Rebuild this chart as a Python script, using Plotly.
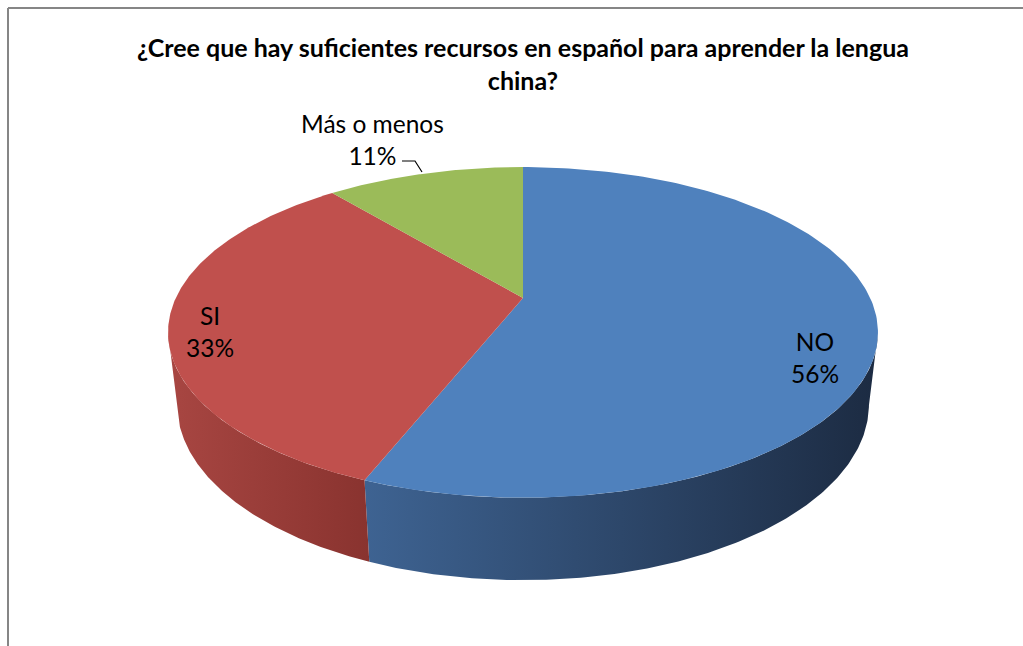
import numpy as np
import plotly.graph_objects as go

# data
labels = ["NO", "SI", "Más o menos"]
values = [56, 33, 11]
title_text = "¿Cree que hay suficientes recursos en español para aprender la lengua<br>china?"

# colours (Excel 2007 palette)
TOP = ["#4f81bd", "#c0504d", "#9bbb59"]
SIDE = [["#3e6392", "#1c2b42"], ["#a84642", "#89332f"], ["#7d9a45", "#66803a"]]

# pseudo-3D pie: a tilted disc seen in perspective (pixel space)
W, H = 1023, 646
CX, CY = 523, 298          # projected centre of the disc
ELEV = np.radians(27.1)    # viewing elevation
DIST = 4.28                # camera distance (in radii)
FOCAL = 1486
THICK = 0.234              # disc thickness (in radii)


def proj(theta_deg, level=0.0):
    t = np.radians(theta_deg)
    X, Z, Y = np.sin(t), np.cos(t), -level * THICK
    depth = DIST + Z * np.cos(ELEV) - Y * np.sin(ELEV)
    up = Y * np.cos(ELEV) + Z * np.sin(ELEV)
    return CX + FOCAL * X / depth, CY - FOCAL * up / depth


fig = go.Figure()

total = sum(values)
bounds = np.concatenate([[0], np.cumsum(values) / total * 360])
edge = np.degrees(np.arccos(-np.cos(ELEV) / DIST))  # silhouette angle

# side walls (front part only)
for i in range(len(values)):
    a0, a1 = max(bounds[i], edge), min(bounds[i + 1], 360 - edge)
    if a1 <= a0:
        continue
    th = np.linspace(a0, a1, 150)
    xt, yt = proj(th)
    xb, yb = proj(th[::-1], 1.0)
    xs = np.concatenate([xt, xb, xt[:1]])
    ys = np.concatenate([yt, yb, yt[:1]])
    fig.add_trace(go.Scatter(
        x=xs, y=ys, mode="lines", fill="toself", line=dict(width=0),
        fillgradient=dict(type="horizontal",
                          colorscale=[[0, SIDE[i][0]], [1, SIDE[i][1]]],
                          start=float(xs.min()), stop=float(xs.max())),
        hoverinfo="skip", showlegend=False))

# top wedges
for i, lab in enumerate(labels):
    th = np.linspace(bounds[i], bounds[i + 1], 200)
    xa, ya = proj(th)
    fig.add_trace(go.Scatter(
        x=np.concatenate([[CX], xa, [CX]]), y=np.concatenate([[CY], ya, [CY]]),
        mode="lines", fill="toself", fillcolor=TOP[i], line=dict(width=0),
        name=lab, hoverinfo="name", showlegend=False))

# data labels
label_pos = [(815, 357), (210, 331), (372, 139)]
for lab, v, (lx, ly) in zip(labels, values, label_pos):
    fig.add_annotation(x=lx, y=ly, text=f"{lab}<br>{v}%", showarrow=False,
                       font=dict(family="Lato", size=24.5, color="#000000"),
                       xanchor="center", yanchor="middle")

fig.add_annotation(x=523, y=63, text=f"<b>{title_text}</b>", showarrow=False,
                   font=dict(family="Lato", size=25, color="#000000"),
                   xanchor="center", yanchor="middle")

border = dict(color="#868686", width=2)
fig.update_layout(
    width=W, height=H, margin=dict(l=0, r=0, t=0, b=0),
    paper_bgcolor="white", plot_bgcolor="white",
    xaxis=dict(range=[0, W], visible=False, fixedrange=True),
    yaxis=dict(range=[H, 0], visible=False, fixedrange=True),
    shapes=[
        # chart border (left and top edges are the only ones in view)
        dict(type="line", xref="x", yref="y", x0=8, y0=8, x1=8, y1=H + 8, line=border),
        dict(type="line", xref="x", yref="y", x0=8, y0=8, x1=W + 8, y1=8, line=border),
        # leader line for the small slice
        dict(type="path", xref="x", yref="y", path="M 402 161 L 415 161 L 422 172",
             line=dict(color="#000000", width=1.2)),
    ],
)

# drop the default body margin / scrollbars so the figure fills the window exactly
fig.write_html(
    "out.html", config={"displayModeBar": False},
    post_script=("document.body.style.margin='0';"
                 "document.body.style.overflow='hidden';"
                 "document.documentElement.style.overflow='hidden';"))
